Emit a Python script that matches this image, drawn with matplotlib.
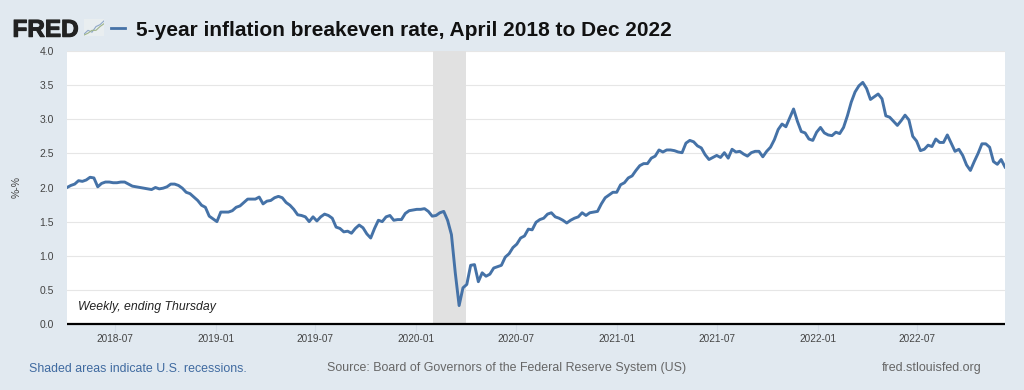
import pandas as pd
import matplotlib
matplotlib.use('Agg')
import matplotlib.pyplot as plt
import matplotlib.patheffects as pe
from matplotlib.lines import Line2D

plt.rcParams['font.family'] = ['Liberation Sans', 'DejaVu Sans']

# weekly readings, ending Thursday
breakeven = [
    2.00, 2.03, 2.05, 2.10, 2.09, 2.11, 2.15, 2.14, 2.01, 2.06,
    2.08, 2.08, 2.07, 2.07, 2.08, 2.08, 2.05, 2.02, 2.01, 2.00,
    1.99, 1.98, 1.97, 2.00, 1.98, 1.99, 2.01, 2.05, 2.05, 2.03,
    1.99, 1.93, 1.91, 1.86, 1.81, 1.74, 1.71, 1.58, 1.54, 1.50,
    1.64, 1.64, 1.64, 1.66, 1.71, 1.73, 1.78, 1.83, 1.83, 1.83,
    1.86, 1.76, 1.80, 1.81, 1.85, 1.87, 1.85, 1.78, 1.74, 1.68,
    1.60, 1.59, 1.57, 1.50, 1.57, 1.51, 1.57, 1.61, 1.59, 1.55,
    1.42, 1.40, 1.35, 1.36, 1.33, 1.40, 1.45, 1.41, 1.32, 1.26,
    1.40, 1.52, 1.50, 1.57, 1.59, 1.52, 1.53, 1.53, 1.62, 1.66,
    1.67, 1.68, 1.68, 1.69, 1.65, 1.58, 1.59, 1.63, 1.65, 1.52,
    1.31, 0.75, 0.27, 0.53, 0.58, 0.86, 0.87, 0.62, 0.75, 0.70,
    0.73, 0.82, 0.84, 0.86, 0.98, 1.03, 1.12, 1.17, 1.26, 1.29,
    1.39, 1.38, 1.49, 1.53, 1.55, 1.61, 1.63, 1.57, 1.55, 1.52,
    1.48, 1.52, 1.55, 1.57, 1.63, 1.59, 1.63, 1.64, 1.65, 1.76,
    1.85, 1.89, 1.93, 1.93, 2.04, 2.07, 2.14, 2.17, 2.25, 2.32,
    2.35, 2.35, 2.43, 2.46, 2.55, 2.52, 2.55, 2.55, 2.54, 2.52,
    2.51, 2.65, 2.69, 2.67, 2.61, 2.58, 2.48, 2.41, 2.44, 2.47,
    2.44, 2.51, 2.43, 2.56, 2.52, 2.53, 2.49, 2.46, 2.51, 2.53,
    2.53, 2.45, 2.53, 2.59, 2.70, 2.85, 2.93, 2.89, 3.02, 3.15,
    2.97, 2.82, 2.80, 2.71, 2.69, 2.81, 2.88, 2.80, 2.77, 2.76,
    2.81, 2.79, 2.88, 3.05, 3.25, 3.40, 3.49, 3.54, 3.45, 3.29,
    3.33, 3.37, 3.30, 3.05, 3.03, 2.97, 2.91, 2.98, 3.06, 2.99,
    2.75, 2.68, 2.54, 2.56, 2.62, 2.60, 2.71, 2.66, 2.66, 2.77,
    2.65, 2.53, 2.56, 2.47, 2.33, 2.25, 2.38, 2.50, 2.64, 2.64,
    2.59, 2.38, 2.34, 2.41, 2.30,
]
dates = pd.date_range('2018-04-05', periods=len(breakeven), freq='7D')
tick_dates = ['2018-07', '2019-01', '2019-07', '2020-01', '2020-07',
              '2021-01', '2021-07', '2022-01', '2022-07']
y_ticks = [0.0, 0.5, 1.0, 1.5, 2.0, 2.5, 3.0, 3.5, 4.0]
recession = ['2020-01-31', '2020-04-01']

W, H = 1024, 390
bg = '#e1e9f0'
line_blue = '#4572a7'

fig = plt.figure(figsize=(W / 100, H / 100), dpi=100, facecolor=bg)
ax = fig.add_axes([67 / W, 1 - 324 / H, 938 / W, 273 / H])

ax.axvspan(pd.Timestamp(recession[0]), pd.Timestamp(recession[1]), color='#e1e1e1', lw=0, zorder=1)
ax.plot(dates, breakeven, color=line_blue, lw=2.1, zorder=3, solid_joinstyle='round')

ax.set_xlim(dates[0], dates[-1])
ax.set_ylim(0, 4)
ax.set_yticks(y_ticks)
ax.set_yticklabels([f'{v:.1f}' for v in y_ticks])
ax.set_xticks([pd.Timestamp(d + '-01') for d in tick_dates])
ax.set_xticklabels(tick_dates)
ax.grid(axis='y', color='#e6e6e6', lw=0.8, zorder=0)
ax.set_axisbelow(True)
for side in ['top', 'left', 'right']:
    ax.spines[side].set_visible(False)
ax.spines['bottom'].set_linewidth(1.6)
ax.spines['bottom'].set_color('black')
ax.spines['bottom'].set_capstyle('butt')
ax.tick_params(axis='y', length=0, labelsize=7.5, labelcolor='#444444', pad=9.5)
ax.tick_params(axis='x', length=6, width=0.8, color='#d5dde8', labelsize=7.2, labelcolor='#444444', pad=1.5)

fig.text(78 / W, 1 - 307 / H, 'Weekly, ending Thursday', fontsize=8.85, style='italic', color='#222222', va='center')
fig.text(17 / W, 1 - 187 / H, '%-%', rotation=90, fontsize=7.5, color='#444444', ha='center', va='center')

# header
fig.text(12.5 / W, 1 - 36.7 / H, 'FRED', fontsize=17.5, fontweight='bold', color='#222222', va='baseline',
         path_effects=[pe.withStroke(linewidth=0.8, foreground='#222222')])
icon = fig.add_axes([84 / W, 1 - 36 / H, 20 / W, 17 / H], facecolor='#e9eef0')
icon.plot([0, 2, 4, 6, 8, 10], [1, 3, 2, 5, 6, 8], color='#8fa8c8', lw=0.8)
icon.plot([0, 2, 4, 6, 8, 10], [0.5, 1.5, 3, 3, 5, 6.5], color='#9fb58a', lw=0.8)
icon.set_xlim(0, 10)
icon.set_ylim(0, 9)
icon.set_xticks([])
icon.set_yticks([])
for side in icon.spines:
    icon.spines[side].set_visible(False)
fig.add_artist(Line2D([111 / W, 125 / W], [1 - 27.5 / H, 1 - 27.5 / H], color=line_blue, lw=2.0))
fig.text(136 / W, 1 - 36 / H, '5-year inflation breakeven rate, April 2018 to Dec 2022',
         fontsize=15.0, fontweight='bold', color='#111111', va='baseline')

# footer
fig.text(29 / W, 1 - 368.5 / H, 'Shaded areas indicate U.S. recessions.', fontsize=8.9, color='#3f6aa0', va='center')
fig.text(327 / W, 1 - 368.5 / H, 'Source: Board of Governors of the Federal Reserve System (US)',
         fontsize=8.95, color='#666666', va='center')
fig.text(982 / W, 1 - 368.5 / H, 'fred.stlouisfed.org', fontsize=9, color='#666666', va='center', ha='right')

fig.savefig('out.png', dpi=100, facecolor=bg)
